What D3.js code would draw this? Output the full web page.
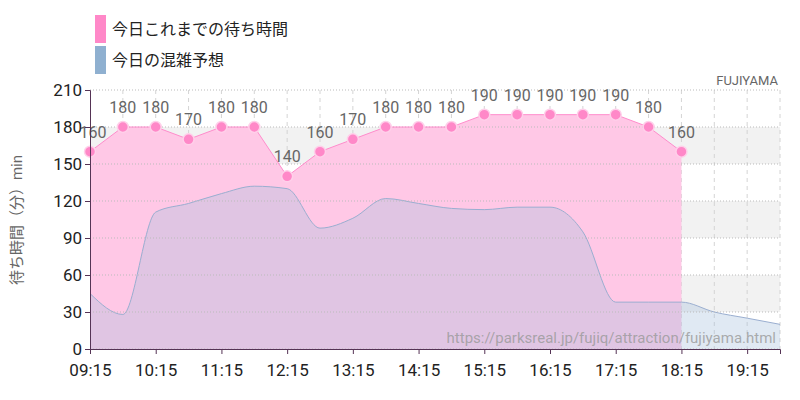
<!DOCTYPE html><html><head><meta charset="utf-8"><script src="https://cdn.jsdelivr.net/npm/d3@7"></script>
<style>body{margin:0;background:#fff}text{font-family:Roboto,"Noto Sans CJK JP",sans-serif}</style></head><body><svg id="c" width="800" height="400"></svg><script>
const actualTimes=["09:15","09:45","10:15","10:45","11:15","11:45","12:15","12:45","13:15","13:45","14:15","14:45","15:15","15:45","16:15","16:45","17:15","17:45","18:15"];
const actualValues=[160,180,180,170,180,180,140,160,170,180,180,180,190,190,190,190,190,180,160];
const forecastTimes=["09:15","09:45","10:15","10:45","11:15","11:45","12:15","12:45","13:15","13:45","14:15","14:45","15:15","15:45","16:15","16:45","17:15","17:45","18:15","18:45","19:15","19:45"];
const forecastValues=[45,28,111,118,126,132,130,98,106,122,118,114,113,115,115,95,38,38,38,30,25,20];
const xTicks=["09:15","10:15","11:15","12:15","13:15","14:15","15:15","16:15","17:15","18:15","19:15"];
const yTicks=[0,30,60,90,120,150,180,210];
const legend=["今日これまでの待ち時間","今日の混雑予想"];
const tm=s=>{const[a,b]=s.split(":");return +a*60+ +b;};
const svg=d3.select("#c");
const x=d3.scaleLinear().domain([tm("09:15"),tm("19:45")]).range([90,780]);
const y=d3.scaleLinear().domain([0,210]).range([349,90]);
for(let i=0;i<7;i++){svg.append("rect").attr("x",90).attr("width",690).attr("y",y(30*(i+1))).attr("height",y(30*i)-y(30*(i+1))).attr("fill",i%2==1?"#f2f2f2":"#fff");}
forecastTimes.slice(1).forEach(t=>svg.append("line").attr("x1",x(tm(t))).attr("x2",x(tm(t))).attr("y1",90).attr("y2",349).attr("stroke","#d4d4d4").attr("stroke-dasharray","4,4"));
const act=actualTimes.map((t,i)=>[tm(t),actualValues[i]]);
svg.append("path").datum(act).attr("d",d3.area().x(d=>x(d[0])).y0(y(0)).y1(d=>y(d[1]))).attr("fill","#ffc8e6");
const fc=forecastTimes.map((t,i)=>[tm(t),forecastValues[i]]);
svg.append("path").datum(fc).attr("d",d3.area().curve(d3.curveMonotoneX).x(d=>x(d[0])).y0(y(0)).y1(d=>y(d[1]))).attr("fill","#a6c0dc").attr("fill-opacity",0.35);
svg.append("path").datum(fc).attr("d",d3.line().curve(d3.curveMonotoneX).x(d=>x(d[0])).y(d=>y(d[1]))).attr("fill","none").attr("stroke","#9aaed0").attr("stroke-width",1);
yTicks.forEach(v=>svg.append("line").attr("x1",90).attr("x2",780).attr("y1",y(v)).attr("y2",y(v)).attr("stroke","#bbb").attr("stroke-dasharray","1,2"));
svg.append("path").datum(act).attr("d",d3.line().x(d=>x(d[0])).y(d=>y(d[1]))).attr("fill","none").attr("stroke","#ff8ccc").attr("stroke-width",1);
svg.selectAll("circle.p").data(act).join("circle").attr("cx",d=>x(d[0])).attr("cy",d=>y(d[1])).attr("r",5.5).attr("fill","#ff88c8").attr("stroke","#ffd0ea").attr("stroke-width",1.5);
svg.selectAll("text.v").data(act).join("text").attr("x",d=>x(d[0])+(d[0]==tm("09:15")?3:0)).attr("y",d=>y(d[1])-14).attr("text-anchor","middle").attr("font-size",16).attr("fill","#666").text(d=>d[1]);
const ax=svg.append("g").attr("transform","translate(0,349)").call(d3.axisBottom(x).tickValues(xTicks.map(tm)).tickFormat((d,i)=>xTicks[i]).tickSize(5));
ax.selectAll("text").attr("font-size",17).attr("fill","#222").attr("dy","1.1em");
const ay=svg.append("g").attr("transform","translate(90,0)").call(d3.axisLeft(y).tickValues(yTicks).tickSize(5));
ay.selectAll("text").attr("font-size",17).attr("fill","#222");
[ax,ay].forEach(a=>a.selectAll("path,line").attr("stroke","#553355"));
svg.append("text").attr("transform","translate(22,220) rotate(-90)").attr("text-anchor","middle").attr("font-size",15).attr("fill","#666").text("待ち時間（分）min");
svg.append("text").attr("x",778).attr("y",85).attr("text-anchor","end").attr("font-size",13).attr("fill","#666").text("FUJIYAMA");
svg.append("text").attr("x",776).attr("y",343).attr("text-anchor","end").attr("font-size",15).attr("fill","#999").attr("fill-opacity",0.8).text("https://parksreal.jp/fujiq/attraction/fujiyama.html");
const lc=["#ff88c8","#8fb0d0"];
legend.forEach((l,i)=>{svg.append("rect").attr("x",95).attr("y",15+i*31).attr("width",11).attr("height",28).attr("fill",lc[i]);
svg.append("text").attr("x",112).attr("y",35+i*31).attr("font-size",16).attr("fill","#222").text(l);});
</script></body></html>
